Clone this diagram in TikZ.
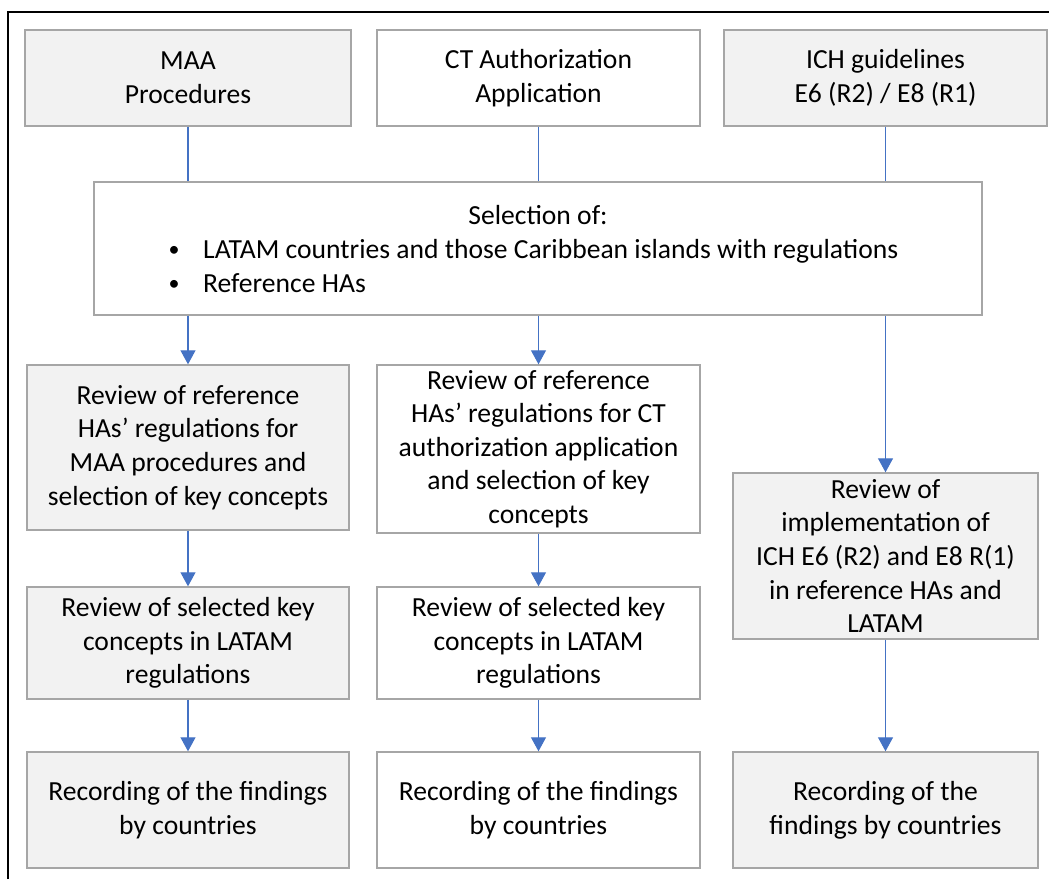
\documentclass[tikz,border=0pt]{standalone}
\usepackage{fontspec}
\setmainfont{Carlito}
\usetikzlibrary{arrows.meta}
\definecolor{boxline}{HTML}{A6A6A6}
\definecolor{boxfill}{HTML}{F2F2F2}
\definecolor{flow}{HTML}{4472C4}
\begin{document}
\begin{tikzpicture}[x=1pt,y=-1pt,
  every node/.style={font=\fontsize{27.6}{33.6}\selectfont},
  basebox/.style={draw=boxline, line width=1.4pt, inner sep=0pt, align=center},
  greybox/.style={basebox, fill=boxfill},
  whitebox/.style={basebox, fill=white},
  bulletmark/.style={anchor=base, font=\fontsize{22}{26}\selectfont},
  link/.style={draw=flow, line width=1.1pt},
  flowarrow/.style={link, -{Triangle[length=14pt,width=15pt]}}]
\useasboundingbox (0,0) rectangle (1049,879);
% outer frame (open to the right and bottom)
\draw[line width=1.1pt] (8,879) -- (8,12) -- (1049,12);

% sources
\node[greybox, minimum width=326pt, minimum height=96pt] (maa) at (188,78) {MAA\\Procedures};
\node[whitebox, minimum width=323pt, minimum height=96pt] (cta) at (538.5,78) {CT Authorization\\Application};
\node[greybox, minimum width=323pt, minimum height=96pt] (ich) at (885.5,78) {ICH guidelines\\E6 (R2) / E8 (R1)};

% selection step
\node[whitebox, minimum width=888pt, minimum height=133pt] (sel) at (538,248.5) {};
\node[anchor=base] (selhead) at (538,224) {Selection of:};
\node[bulletmark] (bul1) at (174,256) {\textbullet};
\node[anchor=base west, inner sep=0pt] (item1) at (203,258) {LATAM countries and those Caribbean islands with regulations};
\node[bulletmark] (bul2) at (174,290) {\textbullet};
\node[anchor=base west, inner sep=0pt] (item2) at (203,292) {Reference HAs};

% reviews
\node[greybox, minimum width=322pt, minimum height=165pt] (r1) at (188,447.5)
  {Review of reference\\HAs’ regulations for\\MAA procedures and\\selection of key concepts};
\node[whitebox, minimum width=323pt, minimum height=168pt] (r2) at (538.5,449)
  {Review of reference\\HAs’ regulations for CT\\authorization application\\and selection of key\\concepts};
\node[greybox, minimum width=305pt, minimum height=166pt] (r3) at (885.5,556)
  {Review of\\implementation of\\ICH E6 (R2) and E8 R(1)\\in reference HAs and\\LATAM};

\node[greybox, minimum width=322pt, minimum height=112pt] (k1) at (188,643)
  {Review of selected key\\concepts in LATAM\\regulations};
\node[whitebox, minimum width=323pt, minimum height=112pt] (k2) at (538.5,643)
  {Review of selected key\\concepts in LATAM\\regulations};

% findings
\node[greybox, minimum width=322pt, minimum height=116pt] (f1) at (188,810)
  {Recording of the findings\\by countries};
\node[whitebox, minimum width=323pt, minimum height=116pt] (f2) at (538.5,810)
  {Recording of the findings\\by countries};
\node[greybox, minimum width=305pt, minimum height=116pt] (f3) at (885.5,810)
  {Recording of the\\findings by countries};

% connectors
\draw[link] (maa.south) -- (maa.south |- sel.north);
\draw[link] (cta.south) -- (cta.south |- sel.north);
\draw[link] (ich.south) -- (ich.south |- sel.north);
\draw[flowarrow] (r1.north |- sel.south) -- (r1.north);
\draw[flowarrow] (r2.north |- sel.south) -- (r2.north);
\draw[flowarrow] (r3.north |- sel.south) -- (r3.north);
\draw[flowarrow] (r1.south) -- (k1.north);
\draw[flowarrow] (r2.south) -- (k2.north);
\draw[flowarrow] (k1.south) -- (f1.north);
\draw[flowarrow] (k2.south) -- (f2.north);
\draw[flowarrow] (r3.south) -- (f3.north);
\end{tikzpicture}
\end{document}
